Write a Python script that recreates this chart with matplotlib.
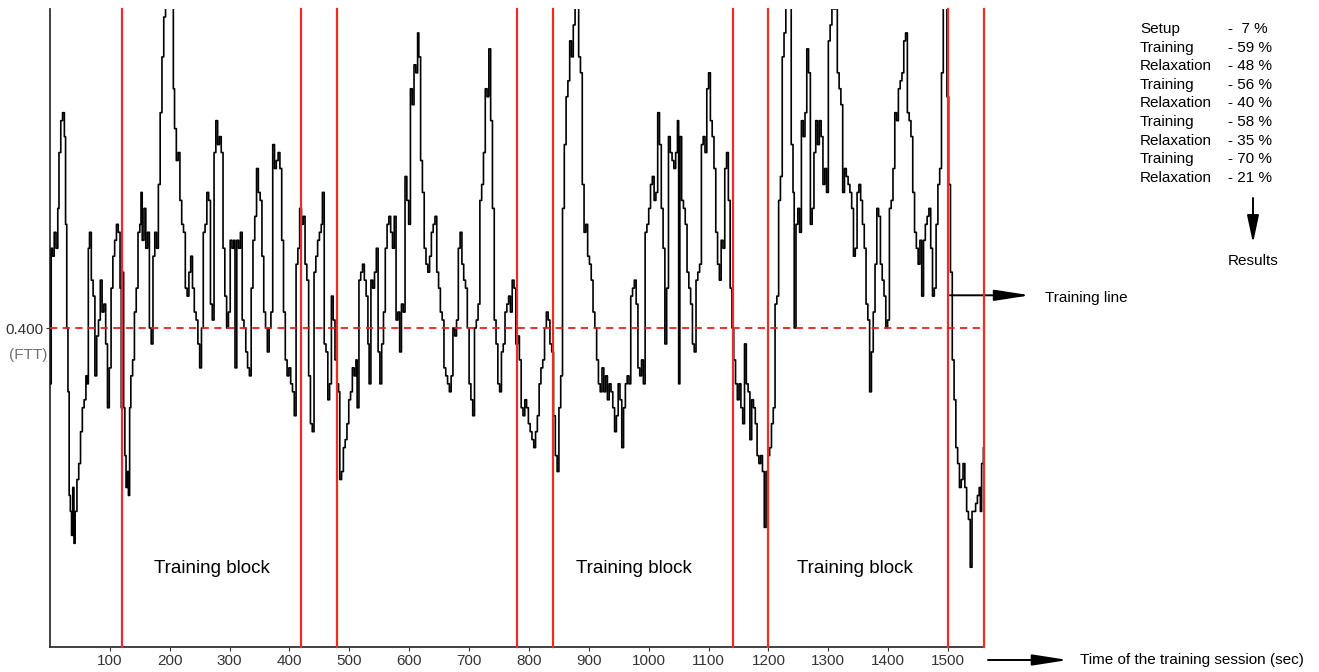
import matplotlib.pyplot as plt

plt.rcParams['font.family'] = ['Liberation Sans', 'DejaVu Sans']

# FTT signal (time in seconds, value)
time_s = [
    0, 2, 4, 7, 10, 13, 15, 18, 21, 24, 26, 28, 30, 32, 34, 36, 38, 40, 42, 45,
    48, 51, 54, 57, 60, 62, 64, 66, 69, 72, 75, 78, 81, 84, 87, 90, 93, 96, 99, 102,
    105, 108, 111, 114, 117, 119,
    121, 123, 125, 127, 129, 131, 133, 135, 138, 141, 144, 147, 150, 152, 154, 157, 160, 163, 166, 169,
    172, 175, 178, 181, 184, 187, 190, 193, 196, 200, 203, 206, 208, 211, 214, 217, 220, 223, 226, 229,
    232, 235, 238, 241, 244, 247, 250, 253, 256, 259, 262, 265, 268, 271, 274, 277, 280, 283, 286, 289,
    292, 295, 298, 301, 304, 307, 309, 312, 315, 318, 321, 324, 327, 330, 333, 336, 339, 342, 345, 348,
    351, 354, 357, 360, 363, 366, 369, 372, 375, 378, 381, 384, 387, 390, 393, 396, 399, 402, 405, 408,
    411, 414, 417,
    420, 423, 426, 429, 432, 435, 438, 441, 444, 447, 450, 453, 455, 458, 461, 464, 467, 470, 473, 476,
    479, 482, 484, 487, 490, 493, 496, 499, 502, 505, 508, 511, 513, 516, 519, 522, 525, 528, 531, 533,
    536, 539, 542, 545, 548, 551, 554, 557, 560, 563, 566, 569, 572, 575, 578, 581, 584, 587, 590, 593,
    596, 599, 602, 605, 608, 611, 614, 616, 619, 622, 625, 628, 631, 634, 637, 640, 643, 646, 649, 652,
    655, 658, 661, 664, 667, 670, 673, 676, 679, 682, 685, 688, 691, 694, 697, 700, 703, 706, 709, 712,
    715, 718, 721, 724, 727, 730, 733, 736, 739, 742, 745, 748, 751, 754, 757, 760, 763, 766, 769, 772,
    775, 778,
    781, 784, 787, 790, 793, 796, 799, 802, 805, 808, 811, 814, 817, 820, 823, 826, 829, 832, 835, 838,
    841, 844, 847, 850, 853, 856, 859, 862, 865, 868, 871, 874, 877, 880, 883, 886, 889, 892, 895, 898,
    901, 904, 907, 910, 913, 916, 919, 922, 925, 928, 931, 934, 937, 940, 943, 946, 949, 952, 955, 958,
    961, 964, 967, 970, 973, 976, 979, 982, 985, 988, 991, 994, 997, 1000, 1003, 1006, 1009, 1012, 1015, 1018,
    1021, 1024, 1027, 1030, 1033, 1036, 1039, 1042, 1045, 1048, 1050, 1052, 1055, 1058, 1061, 1064, 1067, 1070, 1073, 1076,
    1079, 1082, 1085, 1088, 1091, 1094, 1097, 1100, 1103, 1106, 1109, 1112, 1115, 1118, 1121, 1124, 1127, 1130, 1133, 1136,
    1139,
    1142, 1145, 1148, 1151, 1154, 1157, 1160, 1163, 1166, 1169, 1172, 1175, 1178, 1181, 1184, 1187, 1190, 1193, 1196, 1199,
    1202, 1205, 1208, 1211, 1214, 1217, 1220, 1223, 1226, 1229, 1232, 1235, 1238, 1241, 1243, 1246, 1249, 1252, 1255, 1258,
    1261, 1264, 1267, 1270, 1273, 1276, 1279, 1282, 1285, 1288, 1291, 1294, 1297, 1300, 1303, 1306, 1309, 1312, 1315, 1318,
    1321, 1324, 1327, 1330, 1333, 1336, 1339, 1342, 1345, 1348, 1351, 1354, 1357, 1360, 1363, 1366, 1369, 1372, 1375, 1378,
    1381, 1384, 1387, 1390, 1393, 1396, 1399, 1402, 1405, 1408, 1411, 1414, 1417, 1420, 1423, 1426, 1429, 1432, 1435, 1438,
    1441, 1444, 1447, 1450, 1453, 1456, 1459, 1462, 1465, 1468, 1471, 1474, 1477, 1480, 1483, 1486, 1489, 1492, 1495, 1498,
    1501, 1504, 1507, 1510, 1513, 1516, 1519, 1522, 1525, 1528, 1531, 1534, 1537, 1540, 1543, 1546, 1549, 1552, 1554, 1556,
    1559, 1562,
]
ftt = [
    0.33, 0.50, 0.49, 0.52, 0.50, 0.55, 0.62, 0.66, 0.67, 0.64, 0.53, 0.40, 0.32, 0.19, 0.17, 0.14, 0.20, 0.13, 0.17, 0.21,
    0.23, 0.27, 0.30, 0.31, 0.34, 0.33, 0.50, 0.52, 0.46, 0.44, 0.34, 0.39, 0.41, 0.46, 0.42, 0.43, 0.38, 0.30, 0.35, 0.45,
    0.49, 0.51, 0.53, 0.52, 0.45, 0.30,
    0.47, 0.30, 0.24, 0.20, 0.22, 0.19, 0.30, 0.34, 0.36, 0.42, 0.45, 0.52, 0.53, 0.57, 0.51, 0.55, 0.50, 0.52, 0.40, 0.38,
    0.49, 0.52, 0.50, 0.58, 0.67, 0.74, 0.79, 0.85, 0.83, 0.86, 0.82, 0.70, 0.65, 0.61, 0.62, 0.56, 0.53, 0.52, 0.45, 0.44,
    0.47, 0.49, 0.45, 0.42, 0.41, 0.38, 0.35, 0.40, 0.52, 0.53, 0.57, 0.56, 0.43, 0.41, 0.62, 0.66, 0.63, 0.64, 0.62, 0.50,
    0.44, 0.40, 0.42, 0.51, 0.50, 0.51, 0.35, 0.51, 0.50, 0.52, 0.41, 0.40, 0.37, 0.35, 0.34, 0.45, 0.51, 0.54, 0.60, 0.57,
    0.56, 0.49, 0.42, 0.40, 0.37, 0.40, 0.42, 0.63, 0.60, 0.61, 0.62, 0.60, 0.51, 0.42, 0.36, 0.34, 0.35, 0.33, 0.32, 0.29,
    0.48, 0.50, 0.55,
    0.53, 0.54, 0.48, 0.46, 0.34, 0.28, 0.27, 0.47, 0.49, 0.51, 0.52, 0.53, 0.57, 0.38, 0.37, 0.31, 0.33, 0.44, 0.41, 0.36,
    0.33, 0.32, 0.21, 0.22, 0.25, 0.26, 0.28, 0.31, 0.32, 0.35, 0.34, 0.36, 0.30, 0.46, 0.47, 0.48, 0.46, 0.44, 0.38, 0.33,
    0.46, 0.45, 0.47, 0.50, 0.37, 0.33, 0.38, 0.42, 0.50, 0.53, 0.54, 0.52, 0.50, 0.54, 0.41, 0.42, 0.37, 0.43, 0.42, 0.59,
    0.56, 0.53, 0.70, 0.68, 0.73, 0.72, 0.77, 0.74, 0.61, 0.57, 0.50, 0.48, 0.47, 0.49, 0.52, 0.53, 0.54, 0.47, 0.45, 0.42,
    0.41, 0.35, 0.34, 0.33, 0.32, 0.34, 0.40, 0.39, 0.41, 0.50, 0.52, 0.48, 0.46, 0.45, 0.40, 0.33, 0.31, 0.29, 0.40, 0.41,
    0.43, 0.56, 0.58, 0.62, 0.70, 0.69, 0.75, 0.66, 0.55, 0.41, 0.38, 0.33, 0.32, 0.37, 0.38, 0.42, 0.43, 0.44, 0.42, 0.46,
    0.45, 0.38,
    0.39, 0.36, 0.30, 0.29, 0.31, 0.30, 0.28, 0.27, 0.26, 0.25, 0.27, 0.29, 0.33, 0.35, 0.36, 0.40, 0.42, 0.41, 0.38, 0.37,
    0.29, 0.24, 0.22, 0.30, 0.34, 0.55, 0.63, 0.69, 0.71, 0.76, 0.74, 0.78, 0.84, 0.81, 0.74, 0.72, 0.58, 0.52, 0.53, 0.49,
    0.48, 0.46, 0.42, 0.40, 0.36, 0.33, 0.32, 0.35, 0.32, 0.34, 0.31, 0.33, 0.32, 0.30, 0.27, 0.29, 0.33, 0.31, 0.25, 0.30,
    0.33, 0.34, 0.33, 0.44, 0.45, 0.46, 0.43, 0.35, 0.34, 0.36, 0.33, 0.52, 0.53, 0.55, 0.58, 0.59, 0.56, 0.57, 0.67, 0.63,
    0.55, 0.50, 0.38, 0.45, 0.64, 0.62, 0.61, 0.60, 0.62, 0.66, 0.33, 0.64, 0.56, 0.55, 0.53, 0.47, 0.45, 0.43, 0.38, 0.37,
    0.46, 0.47, 0.48, 0.63, 0.64, 0.62, 0.70, 0.72, 0.66, 0.64, 0.60, 0.52, 0.48, 0.46, 0.51, 0.50, 0.60, 0.62, 0.56, 0.45,
    0.40,
    0.36, 0.33, 0.31, 0.33, 0.30, 0.28, 0.38, 0.33, 0.32, 0.26, 0.31, 0.30, 0.28, 0.24, 0.23, 0.24, 0.22, 0.15, 0.22, 0.24,
    0.25, 0.28, 0.30, 0.43, 0.44, 0.56, 0.59, 0.74, 0.77, 0.82, 0.85, 0.82, 0.63, 0.57, 0.40, 0.53, 0.55, 0.52, 0.66, 0.64,
    0.67, 0.75, 0.72, 0.53, 0.55, 0.62, 0.66, 0.63, 0.66, 0.64, 0.58, 0.60, 0.57, 0.76, 0.78, 0.83, 0.80, 0.84, 0.72, 0.70,
    0.68, 0.57, 0.60, 0.59, 0.58, 0.57, 0.55, 0.49, 0.50, 0.57, 0.58, 0.56, 0.53, 0.50, 0.43, 0.41, 0.32, 0.37, 0.42, 0.48,
    0.55, 0.54, 0.48, 0.46, 0.44, 0.40, 0.41, 0.55, 0.56, 0.60, 0.67, 0.66, 0.70, 0.71, 0.72, 0.76, 0.77, 0.67, 0.66, 0.64,
    0.57, 0.52, 0.50, 0.48, 0.51, 0.44, 0.51, 0.53, 0.54, 0.55, 0.50, 0.44, 0.45, 0.53, 0.58, 0.60, 0.72, 0.84, 0.88, 0.69,
    0.58, 0.47, 0.36, 0.31, 0.25, 0.23, 0.20, 0.21, 0.23, 0.20, 0.17, 0.16, 0.10, 0.17, 0.17, 0.18, 0.19, 0.20, 0.17, 0.23,
    0.25, 0.26,
]

phase_edges = [120, 420, 480, 780, 840, 1140, 1200, 1500, 1560]
training_line = 0.400
block_label_t = [270, 975, 1345]

phase_names = ['Setup', 'Training', 'Relaxation', 'Training', 'Relaxation',
               'Training', 'Relaxation', 'Training', 'Relaxation']
phase_pct = [7, 59, 48, 56, 40, 58, 35, 70, 21]

W, H = 1319, 672
fig = plt.figure(figsize=(W / 100, H / 100), dpi=100)
ax = fig.add_axes([50 / W, 25 / H, 934 / W, 638 / H])

ax.step(time_s, ftt, where='post', color='black', lw=1.2, zorder=3)

for t in phase_edges:
    ax.axvline(t, color='#ee2b2b', lw=1.6, zorder=4, clip_on=False)
ax.plot([0, 1560], [training_line, training_line], color='#e82020', lw=1.3,
        ls=(0, (4, 3)), zorder=5)

for t in block_label_t:
    ax.text(t, 0.098, 'Training block', ha='center', va='center', fontsize=13.5)

ax.set_xlim(0, 1560)
ax.set_ylim(0, 0.8)
ax.spines['top'].set_visible(False)
ax.spines['right'].set_visible(False)
ax.spines['left'].set_color('#333333')
ax.spines['bottom'].set_color('#333333')
ax.spines['left'].set_linewidth(1.3)
ax.spines['bottom'].set_linewidth(1.3)
ax.set_xticks(range(100, 1600, 100))
ax.set_yticks([training_line])
ax.set_yticklabels(['0.400'])
ax.tick_params(axis='both', length=3, color='#333333', labelsize=11,
               labelcolor='#333333', pad=2)

fig.text(47 / W, 1 - 355 / H, '(FTT)', ha='right', va='center', fontsize=11,
         color='#707070')

# training line pointer
ax.annotate('', xy=(1637, 0.441), xytext=(1503, 0.441),
            arrowprops=dict(arrowstyle='-|>,head_length=1.8,head_width=0.28',
                            color='black', lw=1.4, shrinkA=0, shrinkB=0,
                            mutation_scale=12),
            annotation_clip=False)
fig.text(1045 / W, 1 - 298 / H, 'Training line', ha='left', va='center', fontsize=11)

# time axis pointer
ax.annotate('', xy=(1068 / W, 1 - 660 / H), xytext=(988 / W, 1 - 660 / H),
            xycoords='figure fraction', textcoords='figure fraction',
            arrowprops=dict(arrowstyle='-|>,head_length=1.8,head_width=0.28',
                            color='black', lw=1.4, shrinkA=0, shrinkB=0,
                            mutation_scale=12),
            annotation_clip=False)
fig.text(1080 / W, 1 - 660 / H, 'Time of the training session (sec)', ha='left',
         va='center', fontsize=11)

# results table
for i, (name, pct) in enumerate(zip(phase_names, phase_pct)):
    y = 1 - (29 + 18.6 * i) / H
    fig.text(1140 / W, y, name, ha='left', va='center', fontsize=11)
    fig.text(1228 / W, y, ('-  ' if pct < 10 else '- ') + f'{pct} %', ha='left',
             va='center', fontsize=11)

ax.annotate('', xy=(1253 / W, 1 - 243 / H), xytext=(1253 / W, 1 - 198 / H),
            xycoords='figure fraction', textcoords='figure fraction',
            arrowprops=dict(arrowstyle='-|>,head_length=1.4,head_width=0.3',
                            color='black', lw=1.4, shrinkA=0, shrinkB=0,
                            mutation_scale=12),
            annotation_clip=False)
fig.text(1253 / W, 1 - 261 / H, 'Results', ha='center', va='center', fontsize=11)

fig.savefig('out.png', dpi=100, facecolor='white')
